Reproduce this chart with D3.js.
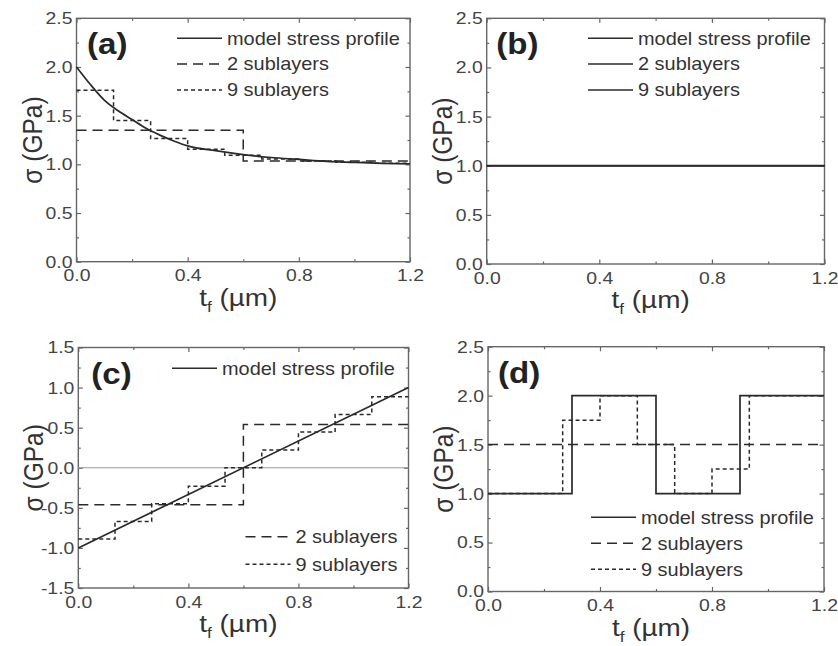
<!DOCTYPE html>
<html>
<head>
<meta charset="utf-8">
<script src="https://cdn.jsdelivr.net/npm/d3@7"></script>
<style>
  html, body { margin: 0; padding: 0; background: #fff; }
  svg { display: block; }
  text { font-family: "Liberation Sans", Arial, sans-serif; }
</style>
</head>
<body>
<svg id="fig" width="838" height="646"></svg>
<script>
// ---- data -------------------------------------------------------------
// film thickness positions (µm) for the smooth model profile in (a)
const tA = [0, 0.05, 0.1, 0.15, 0.2, 0.25, 0.3, 0.35, 0.4, 0.5, 0.6, 0.7, 0.8, 0.9, 1.0, 1.1, 1.2];
const modelA = [2.0, 1.82, 1.66, 1.55, 1.46, 1.37, 1.30, 1.24, 1.19, 1.14, 1.10, 1.07, 1.05, 1.03, 1.02, 1.01, 1.005];

// sublayer boundaries (µm)
const edges2 = [0, 0.6, 1.2];
const edges9 = [0, 0.1333, 0.2667, 0.4, 0.5333, 0.6667, 0.8, 0.9333, 1.0667, 1.2];

// (a) exponential gradient
const sub2A = [1.35, 1.035];
const sub9A = [1.76, 1.45, 1.265, 1.156, 1.094, 1.055, 1.035, 1.022, 1.012];

// (b) uniform stress
const tB = [0, 1.2];
const modelB = [1.0, 1.0];
const sub2B = [1.0, 1.0];
const sub9B = [1.0, 1.0, 1.0, 1.0, 1.0, 1.0, 1.0, 1.0, 1.0];

// (c) linear gradient
const tC = [0, 1.2];
const modelC = [-1.0, 1.0];
const sub2C = [-0.46, 0.54];
const sub9C = [-0.89, -0.67, -0.45, -0.23, 0.0, 0.22, 0.445, 0.665, 0.885];

// (d) square-wave profile
const edgesD = [0, 0.3, 0.6, 0.9, 1.2];
const modelD = [1.0, 2.0, 1.0, 2.0];
const sub2D = [1.5, 1.5];
const sub9D = [1.0, 1.0, 1.75, 2.0, 1.5, 1.0, 1.25, 2.0, 2.0];

const xTicks = [0.0, 0.4, 0.8, 1.2];
const xMinor = [0.2, 0.6, 1.0];
const yTicksPos = [0.0, 0.5, 1.0, 1.5, 2.0, 2.5];
const yTicksC = [-1.5, -1.0, -0.5, 0.0, 0.5, 1.0, 1.5];

const legendNames = ["model stress profile", "2 sublayers", "9 sublayers"];

// ---- styling ----------------------------------------------------------
const SX = 1.14;            // horizontal glyph stretch
const FRAME = "#666";
const INK = "#2a2a2a";
const DASH2 = "10,6";
const DASH9 = "4,3";
const TICK_FONT = 17;
const fmt1 = v => d3.format(".1f")(v).replace("\u2212", "-");

const svg = d3.select("#fig");

function stretchedText(g, x, y, str, size, opts = {}) {
  const wrap = g.append("g").attr("transform", `translate(${x},${y}) scale(${SX},1)` + (opts.rotate ? ` rotate(${opts.rotate})` : ""));
  const t = wrap.append("text")
    .attr("x", 0).attr("y", 0)
    .attr("font-size", size)
    .attr("fill", opts.fill || "#333")
    .attr("text-anchor", opts.anchor || "start")
    .attr("font-weight", opts.weight || "normal");
  if (str !== null) t.text(str);
  return t;
}

function stepPoints(edges, vals) {
  return edges.map((e, i) => [e, vals[Math.min(i, vals.length - 1)]]);
}

function panel(cfg) {
  const { left, right, top, bottom, yDomain, yTicks } = cfg;
  const x = d3.scaleLinear().domain([0, 1.2]).range([left, right]);
  const y = d3.scaleLinear().domain(yDomain).range([bottom, top]);
  const g = svg.append("g");

  // minor y values every 0.25
  const yMinor = d3.range(yDomain[0] + 0.25, yDomain[1], 0.5);

  const axes = [
    [d3.axisBottom(x).tickValues(xTicks).tickSizeInner(-4.5).tickSizeOuter(0).tickPadding(7.6).tickFormat(fmt1), `translate(0,${bottom})`, "x"],
    [d3.axisBottom(x).tickValues(xMinor).tickSizeInner(-2.5).tickSizeOuter(0).tickFormat(""), `translate(0,${bottom})`],
    [d3.axisTop(x).tickValues(xTicks).tickSizeInner(-4.5).tickSizeOuter(0).tickFormat(""), `translate(0,${top})`],
    [d3.axisTop(x).tickValues(xMinor).tickSizeInner(-2.5).tickSizeOuter(0).tickFormat(""), `translate(0,${top})`],
    [d3.axisLeft(y).tickValues(yTicks).tickSizeInner(-4.5).tickSizeOuter(0).tickFormat(fmt1), `translate(${left},0)`, "y"],
    [d3.axisLeft(y).tickValues(yMinor).tickSizeInner(-2.5).tickSizeOuter(0).tickFormat(""), `translate(${left},0)`],
    [d3.axisRight(y).tickValues(yTicks).tickSizeInner(-4.5).tickSizeOuter(0).tickFormat(""), `translate(${right},0)`],
    [d3.axisRight(y).tickValues(yMinor).tickSizeInner(-2.5).tickSizeOuter(0).tickFormat(""), `translate(${right},0)`]
  ];
  axes.forEach(([ax, tr, kind]) => {
    const a = g.append("g").attr("transform", tr).call(ax);
    a.select(".domain").remove();
    a.selectAll(".tick line").attr("stroke", FRAME).attr("stroke-width", 1.2);
    const labels = a.selectAll(".tick text")
      .attr("font-family", "'Liberation Sans', Arial, sans-serif")
      .attr("font-size", TICK_FONT)
      .attr("fill", "#444");
    // stretch the tick label glyphs horizontally, keeping their anchors
    if (kind === "y") labels.attr("x", -4.0 / SX).attr("transform", `scale(${SX},1)`);
    if (kind === "x") labels.attr("transform", `scale(${SX},1)`);
  });

  // frame
  g.append("rect")
    .attr("x", left).attr("y", top)
    .attr("width", right - left).attr("height", bottom - top)
    .attr("fill", "none").attr("stroke", FRAME).attr("stroke-width", 1.4);

  // axis titles
  const xt = stretchedText(g, (left + right) / 2 - 5, bottom + 44, null, 24.5, { anchor: "middle", fill: "#333" });
  xt.append("tspan").text("t");
  xt.append("tspan").attr("font-size", 15).attr("dy", 6).text("f");
  xt.append("tspan").attr("dy", -6).text(" (\u00B5m)");

  stretchedText(g, left - 35, (top + bottom) / 2, "\u03C3 (GPa)", 24.5, { anchor: "middle", rotate: -90, fill: "#333" });

  // panel letter
  stretchedText(g, left + cfg.labelDx, top + 36, cfg.label, 29, { weight: "bold", fill: "#222" });

  return { g, x, y };
}

function drawLine(p, pts, dash, curve, width) {
  const line = d3.line().x(d => p.x(d[0])).y(d => p.y(d[1])).curve(curve || d3.curveLinear);
  p.g.append("path")
    .attr("d", line(pts))
    .attr("fill", "none")
    .attr("stroke", INK)
    .attr("stroke-width", width || 1.6)
    .attr("stroke-dasharray", dash || null);
}

function legendRow(p, x0, y0, dash, label) {
  p.g.append("line")
    .attr("x1", x0).attr("x2", x0 + 45)
    .attr("y1", y0).attr("y2", y0)
    .attr("stroke", INK).attr("stroke-width", 1.6)
    .attr("stroke-dasharray", dash);
  stretchedText(p.g, x0 + 50, y0 + 6.3, label, 17.5, { fill: "#333" });
}

// ---- panel (a) --------------------------------------------------------
const pa = panel({ left: 76.5, right: 410, top: 18.3, bottom: 261.7, yDomain: [0, 2.5], yTicks: yTicksPos, label: "(a)", labelDx: 10.5 });
drawLine(pa, stepPoints(edges9, sub9A), DASH9, d3.curveStepAfter, 1.5);
drawLine(pa, stepPoints(edges2, sub2A), DASH2, d3.curveStepAfter, 1.5);
drawLine(pa, tA.map((t, i) => [t, modelA[i]]), null, d3.curveMonotoneX, 1.7);
legendRow(pa, 177, 38.3, null, legendNames[0]);
legendRow(pa, 177, 64, DASH2, legendNames[1]);
legendRow(pa, 177, 90, DASH9, legendNames[2]);

// ---- panel (b) --------------------------------------------------------
const pb = panel({ left: 486.7, right: 824.5, top: 18.3, bottom: 264, yDomain: [0, 2.5], yTicks: yTicksPos, label: "(b)", labelDx: 9.5 });
drawLine(pb, stepPoints(edges9, sub9B), null, d3.curveStepAfter, 1.6);
drawLine(pb, stepPoints(edges2, sub2B), null, d3.curveStepAfter, 1.6);
drawLine(pb, tB.map((t, i) => [t, modelB[i]]), null, d3.curveLinear, 1.7);
legendRow(pb, 588, 38.3, null, legendNames[0]);
legendRow(pb, 588, 64, null, legendNames[1]);
legendRow(pb, 588, 90, null, legendNames[2]);

// ---- panel (c) --------------------------------------------------------
const pc = panel({ left: 78.3, right: 408.5, top: 347.5, bottom: 588, yDomain: [-1.5, 1.5], yTicks: yTicksC, label: "(c)", labelDx: 13 });
pc.g.append("line")
  .attr("x1", pc.x(0)).attr("x2", pc.x(1.2))
  .attr("y1", pc.y(0)).attr("y2", pc.y(0))
  .attr("stroke", "#999").attr("stroke-width", 1);
drawLine(pc, stepPoints(edges9, sub9C), DASH9, d3.curveStepAfter, 1.5);
drawLine(pc, stepPoints(edges2, sub2C), DASH2, d3.curveStepAfter, 1.5);
drawLine(pc, tC.map((t, i) => [t, modelC[i]]), null, d3.curveLinear, 1.7);
legendRow(pc, 172, 368.3, null, legendNames[0]);
legendRow(pc, 245.5, 536.7, DASH2, legendNames[1]);
legendRow(pc, 245.5, 564.3, DASH9, legendNames[2]);

// ---- panel (d) --------------------------------------------------------
const pd = panel({ left: 488, right: 824, top: 346.7, bottom: 591.5, yDomain: [0, 2.5], yTicks: yTicksPos, label: "(d)", labelDx: 10 });
drawLine(pd, stepPoints(edges9, sub9D), DASH9, d3.curveStepAfter, 1.5);
drawLine(pd, stepPoints(edges2, sub2D), DASH2, d3.curveStepAfter, 1.5);
drawLine(pd, stepPoints(edgesD, modelD), null, d3.curveStepAfter, 1.7);
legendRow(pd, 591, 517.3, null, legendNames[0]);
legendRow(pd, 591, 543.3, DASH2, legendNames[1]);
legendRow(pd, 591, 569.3, DASH9, legendNames[2]);
</script>
</body>
</html>
